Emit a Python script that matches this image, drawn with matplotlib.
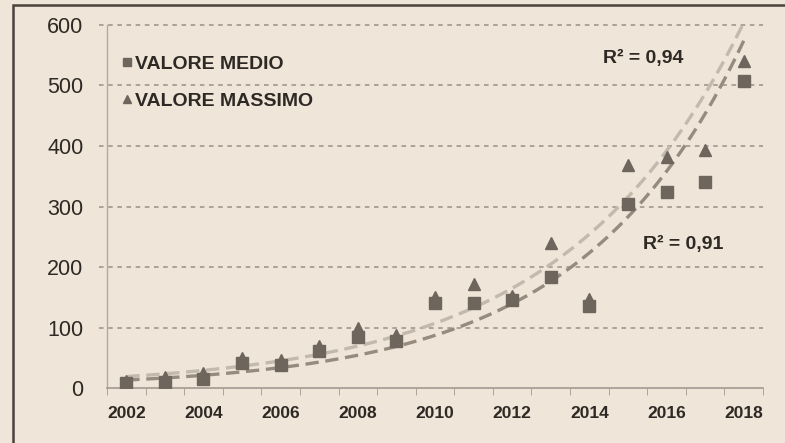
import numpy as np
import matplotlib
matplotlib.use('Agg')
import matplotlib.pyplot as plt
from matplotlib.patches import Rectangle

plt.rcParams['font.family'] = ['Liberation Sans', 'DejaVu Sans']

# yearly values
years = np.arange(2002, 2019)
valore_medio = [8, 10, 15, 42, 38, 62, 85, 78, 140, 140, 145, 183, 135, 305, 324, 340, 507]
valore_massimo = [12, 18, 25, 50, 46, 70, 100, 88, 150, 172, 152, 240, 148, 368, 382, 393, 540]
r2_labels = ['R² = 0,91', 'R² = 0,94']
y_ticks = [0, 100, 200, 300, 400, 500, 600]
x_labels = [2002, 2004, 2006, 2008, 2010, 2012, 2014, 2016, 2018]

bg = '#efe5d8'
ink = '#2e2924'
marker_col = '#6e655d'
grid_col = '#9a9087'


def exp_trend(x, y):
    # exponential trendline, least squares on ln(y)
    b, a = np.polyfit(x, np.log(y), 1)
    xs = np.linspace(x[0], x[-1], 200)
    return xs, np.exp(a + b * xs)


fig = plt.figure(figsize=(7.85, 4.43), dpi=100, facecolor=bg)
ax = fig.add_axes([0.1363, 0.124, 0.972 - 0.1363, 0.9436 - 0.124])
ax.set_facecolor(bg)

# frame round the whole chart (only left and top edges fall inside the image)
fig.patches.append(Rectangle((13 / 785, -0.1), 1.2, 1 - 5 / 443 + 0.1,
                             transform=fig.transFigure, fill=False,
                             edgecolor='#4a433d', linewidth=1.8, zorder=0))

for v in y_ticks[1:]:
    ax.plot([2001.3, 2018.5], [v, v], linestyle=(0, (3, 3)), color=grid_col,
            linewidth=1.1, clip_on=False, zorder=1)

xs, ys = exp_trend(years, valore_massimo)
ax.plot(xs, ys, linestyle=(0, (4, 2)), color='#c4b9ae', linewidth=2.4, zorder=2)
xs, ys = exp_trend(years, valore_medio)
ax.plot(xs, ys, linestyle=(0, (4, 2)), color='#978b80', linewidth=2.4, zorder=2)

ax.plot(years, valore_medio, 's', color=marker_col, markersize=8.5,
        label='VALORE MEDIO', zorder=3)
ax.plot(years, valore_massimo, '^', color=marker_col, markersize=8.5,
        label='VALORE MASSIMO', zorder=3)

ax.set_xlim(2001.5, 2018.5)
ax.set_ylim(0, 600)

for s in ['top', 'right']:
    ax.spines[s].set_visible(False)
ax.spines['left'].set_color('#b3a99f')
ax.spines['bottom'].set_color('#a39990')
ax.spines['left'].set_linewidth(1.0)
ax.spines['bottom'].set_linewidth(1.2)

ax.set_yticks(y_ticks)
ax.set_yticklabels([str(v) for v in y_ticks], fontsize=15.5, color=ink)
ax.tick_params(axis='y', length=0, pad=17)

ax.set_xticks(x_labels)
ax.set_xticklabels([str(v) for v in x_labels], fontsize=12.5,
                   fontweight='bold', color=ink)
ax.set_xticks(np.arange(2001.5, 2019, 1), minor=True)
ax.tick_params(axis='x', which='major', length=0, pad=13)
ax.tick_params(axis='x', which='minor', length=5, color='#a39990')

ax.text(2014.35, 545, r2_labels[1], fontsize=14, fontweight='bold', color=ink,
        va='center')
ax.text(2015.4, 238, r2_labels[0], fontsize=14, fontweight='bold', color=ink,
        va='center')

ax.legend(loc='upper left', bbox_to_anchor=(122 / 785, 1 - 55 / 443),
          bbox_transform=fig.transFigure, frameon=False,
          prop={'size': 14, 'weight': 'bold'},
          markerscale=0.7, handlelength=0.5, handletextpad=0.15,
          labelspacing=1.0, borderpad=0, borderaxespad=0,
          labelcolor=ink)

fig.savefig('out.png', dpi=100, facecolor=bg)
